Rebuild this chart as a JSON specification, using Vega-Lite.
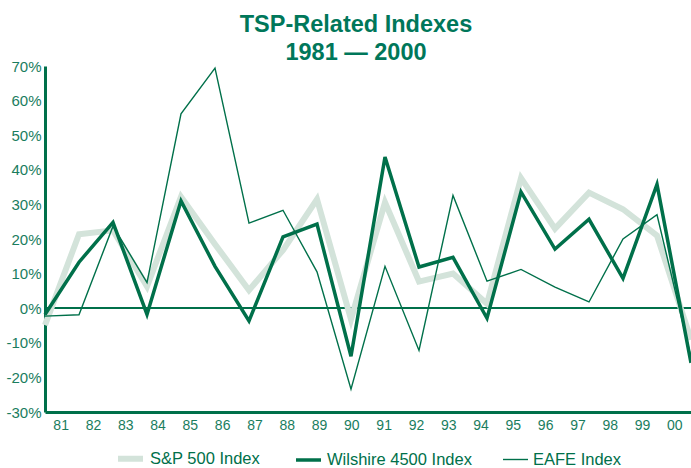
{
  "$schema": "https://vega.github.io/schema/vega-lite/v6.json",
  "width": 646,
  "height": 346,
  "autosize": {"type": "none"},
  "padding": {"left": 45, "top": 66, "right": 0, "bottom": 56},
  "background": "white",
  "title": {
    "text": ["TSP-Related Indexes", "1981 — 2000"],
    "font": "Liberation Sans",
    "fontWeight": "bold",
    "fontSize": 23.5,
    "lineHeight": 28,
    "color": "#00775a",
    "anchor": "middle",
    "dx": -12,
    "offset": -5
  },
  "config": {
    "view": {"stroke": null},
    "axis": {"labelFont": "Liberation Sans", "labelColor": "#1a7d5e", "labelFontSize": 14, "grid": false, "ticks": false, "domainColor": "#00704a", "domainWidth": 3, "title": null, "labelOverlap": false},
    "legend": {"labelFont": "Liberation Sans", "labelColor": "#00704a", "labelFontSize": 16.5}
  },
  "data": {
    "values": [
      {"year": 1981, "series": "S&P 500 Index", "ret": -4.9},
      {"year": 1982, "series": "S&P 500 Index", "ret": 21.4},
      {"year": 1983, "series": "S&P 500 Index", "ret": 22.5},
      {"year": 1984, "series": "S&P 500 Index", "ret": 6.3},
      {"year": 1985, "series": "S&P 500 Index", "ret": 32.2},
      {"year": 1986, "series": "S&P 500 Index", "ret": 18.5},
      {"year": 1987, "series": "S&P 500 Index", "ret": 5.2},
      {"year": 1988, "series": "S&P 500 Index", "ret": 16.8},
      {"year": 1989, "series": "S&P 500 Index", "ret": 31.5},
      {"year": 1990, "series": "S&P 500 Index", "ret": -3.2},
      {"year": 1991, "series": "S&P 500 Index", "ret": 30.6},
      {"year": 1992, "series": "S&P 500 Index", "ret": 7.7},
      {"year": 1993, "series": "S&P 500 Index", "ret": 10.0},
      {"year": 1994, "series": "S&P 500 Index", "ret": 1.3},
      {"year": 1995, "series": "S&P 500 Index", "ret": 37.6},
      {"year": 1996, "series": "S&P 500 Index", "ret": 23.0},
      {"year": 1997, "series": "S&P 500 Index", "ret": 33.4},
      {"year": 1998, "series": "S&P 500 Index", "ret": 28.6},
      {"year": 1999, "series": "S&P 500 Index", "ret": 21.0},
      {"year": 2000, "series": "S&P 500 Index", "ret": -9.1},
      {"year": 1981, "series": "EAFE Index", "ret": -2.3},
      {"year": 1982, "series": "EAFE Index", "ret": -1.9},
      {"year": 1983, "series": "EAFE Index", "ret": 23.7},
      {"year": 1984, "series": "EAFE Index", "ret": 7.4},
      {"year": 1985, "series": "EAFE Index", "ret": 56.2},
      {"year": 1986, "series": "EAFE Index", "ret": 69.4},
      {"year": 1987, "series": "EAFE Index", "ret": 24.6},
      {"year": 1988, "series": "EAFE Index", "ret": 28.3},
      {"year": 1989, "series": "EAFE Index", "ret": 10.5},
      {"year": 1990, "series": "EAFE Index", "ret": -23.4},
      {"year": 1991, "series": "EAFE Index", "ret": 12.1},
      {"year": 1992, "series": "EAFE Index", "ret": -12.2},
      {"year": 1993, "series": "EAFE Index", "ret": 32.6},
      {"year": 1994, "series": "EAFE Index", "ret": 7.8},
      {"year": 1995, "series": "EAFE Index", "ret": 11.2},
      {"year": 1996, "series": "EAFE Index", "ret": 6.1},
      {"year": 1997, "series": "EAFE Index", "ret": 1.8},
      {"year": 1998, "series": "EAFE Index", "ret": 20.0},
      {"year": 1999, "series": "EAFE Index", "ret": 27.0},
      {"year": 2000, "series": "EAFE Index", "ret": -14.2},
      {"year": 1981, "series": "Wilshire 4500 Index", "ret": -1.8},
      {"year": 1982, "series": "Wilshire 4500 Index", "ret": 13.3},
      {"year": 1983, "series": "Wilshire 4500 Index", "ret": 24.8},
      {"year": 1984, "series": "Wilshire 4500 Index", "ret": -1.8},
      {"year": 1985, "series": "Wilshire 4500 Index", "ret": 31.0},
      {"year": 1986, "series": "Wilshire 4500 Index", "ret": 12.1},
      {"year": 1987, "series": "Wilshire 4500 Index", "ret": -3.7},
      {"year": 1988, "series": "Wilshire 4500 Index", "ret": 20.6},
      {"year": 1989, "series": "Wilshire 4500 Index", "ret": 24.3},
      {"year": 1990, "series": "Wilshire 4500 Index", "ret": -13.9},
      {"year": 1991, "series": "Wilshire 4500 Index", "ret": 43.7},
      {"year": 1992, "series": "Wilshire 4500 Index", "ret": 11.9},
      {"year": 1993, "series": "Wilshire 4500 Index", "ret": 14.7},
      {"year": 1994, "series": "Wilshire 4500 Index", "ret": -2.9},
      {"year": 1995, "series": "Wilshire 4500 Index", "ret": 33.6},
      {"year": 1996, "series": "Wilshire 4500 Index", "ret": 17.1},
      {"year": 1997, "series": "Wilshire 4500 Index", "ret": 25.7},
      {"year": 1998, "series": "Wilshire 4500 Index", "ret": 8.6},
      {"year": 1999, "series": "Wilshire 4500 Index", "ret": 35.8},
      {"year": 2000, "series": "Wilshire 4500 Index", "ret": -15.8}
    ]
  },
  "layer": [
    {
      "mark": {"type": "point", "opacity": 0},
      "encoding": {
        "x": {"field": "year", "type": "ordinal", "scale": {"type": "band", "paddingInner": 0, "paddingOuter": 0},
              "axis": {"labelExpr": "substring(toString(datum.value), 2)", "labelAngle": 0, "labelPadding": 6, "domainWidth": 3}},
        "y": {"datum": 0, "type": "quantitative",
              "axis": {"values": [-30, -20, -10, 0, 10, 20, 30, 40, 50, 60, 70], "labelExpr": "datum.value + '%'", "labelPadding": 4, "labelFontSize": 15, "domainWidth": 3, "labelOverlap": false, "labelSeparation": 0}}
      }
    },
    {
      "mark": {"type": "rule", "color": "#00704a", "strokeWidth": 1.5},
      "encoding": {"y": {"datum": 0, "type": "quantitative",
              "axis": {"values": [-30, -20, -10, 0, 10, 20, 30, 40, 50, 60, 70], "labelExpr": "datum.value + '%'", "labelPadding": 4, "labelFontSize": 15, "domainWidth": 3, "labelOverlap": false, "labelSeparation": 0}}}
    },
    {
      "mark": {"type": "line", "strokeJoin": "miter", "strokeCap": "butt"},
      "encoding": {
        "x": {"field": "year", "type": "ordinal", "scale": {"type": "point", "padding": 0}, "axis": null},
        "y": {"field": "ret", "type": "quantitative", "scale": {"domain": [-30, 70], "nice": false, "zero": false},
              "axis": {"values": [-30, -20, -10, 0, 10, 20, 30, 40, 50, 60, 70], "labelExpr": "datum.value + '%'", "labelPadding": 4, "labelFontSize": 15, "domainWidth": 3, "labelOverlap": false, "labelSeparation": 0}},
        "color": {"field": "series", "type": "nominal",
                  "scale": {"domain": ["S&P 500 Index", "Wilshire 4500 Index", "EAFE Index"], "range": ["#d3e3da", "#00704a", "#00704a"]},
                  "legend": {"title": null, "orient": "none", "direction": "horizontal", "legendX": 70, "legendY": 377, "symbolType": "stroke", "symbolSize": 625, "columnPadding": 28, "labelOffset": 4, "padding": 0}},
        "strokeWidth": {"field": "series", "type": "nominal",
                  "scale": {"type": "ordinal", "domain": ["S&P 500 Index", "Wilshire 4500 Index", "EAFE Index"], "range": [6, 3.5, 1.4]},
                  "legend": {"title": null, "orient": "none", "direction": "horizontal", "legendX": 70, "legendY": 377, "symbolType": "stroke", "symbolSize": 625, "columnPadding": 28, "labelOffset": 4, "padding": 0}},
        "order": {"field": "year"}
      }
    }
  ],
  "resolve": {"scale": {"x": "independent"}}
}
